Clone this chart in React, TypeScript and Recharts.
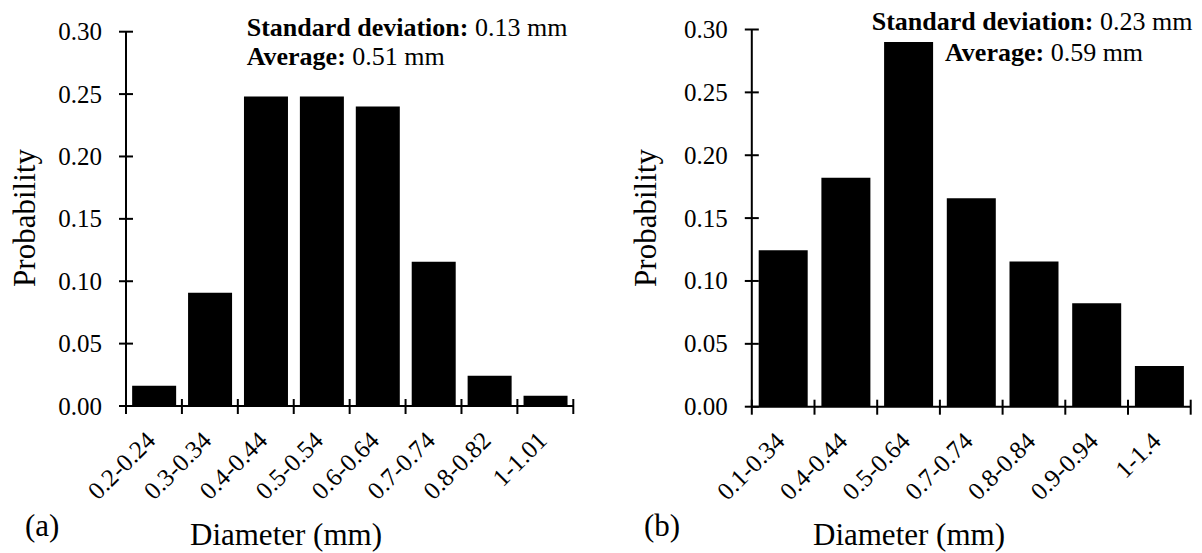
import React from "react";
import { BarChart, Bar, XAxis, YAxis } from "recharts";

// ─── Data ─────────────────────────────────────────────────────────────────────

const leftCats = ["0.2-0.24", "0.3-0.34", "0.4-0.44", "0.5-0.54", "0.6-0.64", "0.7-0.74", "0.8-0.82", "1-1.01"];
const leftProb = [0.0163, 0.0908, 0.248, 0.248, 0.24, 0.1156, 0.0243, 0.0083];

const rightCats = ["0.1-0.34", "0.4-0.44", "0.5-0.64", "0.7-0.74", "0.8-0.84", "0.9-0.94", "1-1.4"];
const rightProb = [0.1245, 0.182, 0.29, 0.1658, 0.1155, 0.0823, 0.0324];

const yTicks = [0, 0.05, 0.1, 0.15, 0.2, 0.25, 0.3];

const FONT = '"Liberation Serif", "Times New Roman", serif';

// ─── Ticks ────────────────────────────────────────────────────────────────────

function YTick(props: any) {
    const { x, y, payload } = props;
    return (
        <g>
            <line x1={x - 7} x2={x + 7} y1={y} y2={y} stroke="#000" strokeWidth={2} />
            <text x={x - 24} y={y} dy="0.34em" textAnchor="end" fontSize={25} fontFamily={FONT} fill="#000">
                {Number(payload.value).toFixed(2)}
            </text>
        </g>
    );
}

function makeXTick(count: number, band: number) {
    return (props: any) => {
        const { x, y, payload, index } = props;
        const half = band / 2;
        return (
            <g>
                <line x1={x - half} x2={x - half} y1={y - 7} y2={y + 8} stroke="#000" strokeWidth={2} />
                {index === count - 1 && (
                    <line x1={x + half} x2={x + half} y1={y - 7} y2={y + 8} stroke="#000" strokeWidth={2} />
                )}
                <text
                    x={x + 3}
                    y={y + 36}
                    textAnchor="end"
                    fontSize={25}
                    fontFamily={FONT}
                    fill="#000"
                    transform={`rotate(-45 ${x + 3} ${y + 36})`}
                >
                    {payload.value}
                </text>
            </g>
        );
    };
}

// ─── One histogram panel ──────────────────────────────────────────────────────

function Panel({ cats, probs, width, yAxisW, right, top, xAxisH }: {
    cats: string[]; probs: number[]; width: number; yAxisW: number;
    right: number; top: number; xAxisH: number;
}) {
    const data = cats.map((c, i) => ({ d: c, p: probs[i] }));
    const band = (width - yAxisW - right) / cats.length;
    return (
        <BarChart
            width={width}
            height={553}
            data={data}
            margin={{ top, right, left: 0, bottom: 0 }}
            barCategoryGap="11%"
        >
            <XAxis
                dataKey="d"
                interval={0}
                height={xAxisH}
                tickSize={0}
                tickMargin={0}
                axisLine={{ stroke: "#000", strokeWidth: 2 }}
                tick={makeXTick(cats.length, band)}
            />
            <YAxis
                type="number"
                domain={[0, 0.3]}
                ticks={yTicks}
                interval={0}
                width={yAxisW}
                tickSize={0}
                tickMargin={0}
                axisLine={{ stroke: "#000", strokeWidth: 2 }}
                tick={YTick}
            />
            <Bar dataKey="p" fill="#000" isAnimationActive={false} />
        </BarChart>
    );
}

export default function App() {
    const txt = { fontFamily: FONT, fill: "#000" };
    return (
        <div style={{ position: "absolute", left: 0, top: 0, width: 1202, height: 553, background: "#fff" }}>
            <div style={{ position: "absolute", left: 0, top: 0 }}>
                <Panel cats={leftCats} probs={leftProb} width={600} yAxisW={126} right={26.7} top={31.7} xAxisH={147} />
            </div>
            <div style={{ position: "absolute", left: 600, top: 0 }}>
                <Panel cats={rightCats} probs={rightProb} width={602} yAxisW={151.8} right={11.3} top={29.5} xAxisH={146.3} />
            </div>
            <svg width={1202} height={553} style={{ position: "absolute", left: 0, top: 0, pointerEvents: "none" }}>
                {/* axis titles */}
                <text {...txt} fontSize={31} textAnchor="middle" transform="translate(35 218) rotate(-90)">Probability</text>
                <text {...txt} fontSize={31} textAnchor="middle" transform="translate(655.5 218) rotate(-90)">Probability</text>
                <text {...txt} fontSize={31} x={190} y={545}>Diameter (mm)</text>
                <text {...txt} fontSize={31} x={813} y={545}>Diameter (mm)</text>
                <text {...txt} fontSize={31} x={25} y={536}>(a)</text>
                <text {...txt} fontSize={31} x={644} y={536}>(b)</text>
                {/* annotations */}
                <text {...txt} fontSize={26} x={246.7} y={36}>
                    <tspan fontWeight="bold">Standard deviation:</tspan> 0.13 mm
                </text>
                <text {...txt} fontSize={26} x={246.7} y={65}>
                    <tspan fontWeight="bold">Average:</tspan> 0.51 mm
                </text>
                <text {...txt} fontSize={26} x={871.7} y={29.5}>
                    <tspan fontWeight="bold">Standard deviation:</tspan> 0.23 mm
                </text>
                <text {...txt} fontSize={26} x={945} y={61}>
                    <tspan fontWeight="bold">Average:</tspan> 0.59 mm
                </text>
            </svg>
        </div>
    );
}
